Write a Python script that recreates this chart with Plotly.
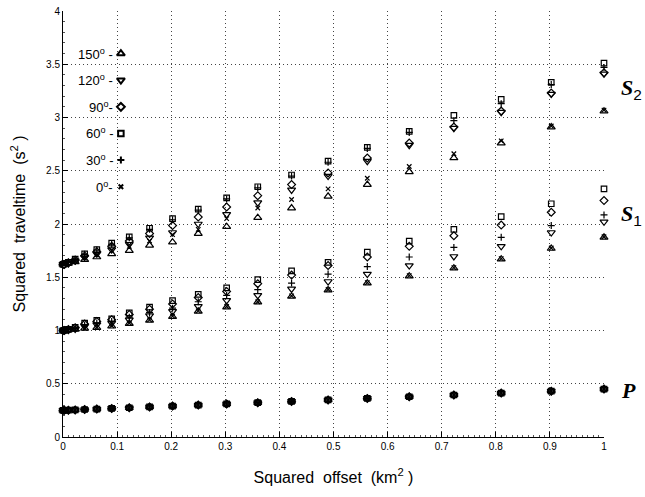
import plotly.graph_objects as go

# squared offsets (km^2)
x_sq = [0, 0.0025, 0.01, 0.0225, 0.04, 0.0625, 0.09, 0.1225, 0.16, 0.2025, 0.25,
        0.3025, 0.36, 0.4225, 0.49, 0.5625, 0.64, 0.7225, 0.81, 0.9025, 1.0]

# P wave (all angles nearly identical)
p_all = [0.25, 0.2505, 0.252, 0.2545, 0.258, 0.2625, 0.268, 0.2745, 0.282, 0.2905, 0.30,
         0.3105, 0.322, 0.3345, 0.348, 0.3625, 0.378, 0.3945, 0.412, 0.4305, 0.45]

# S1 wave
s1_0 = [1.0, 1.0, 1.005, 1.01, 1.02, 1.03, 1.045, 1.07, 1.10, 1.135, 1.185,
        1.225, 1.27, 1.325, 1.385, 1.45, 1.515, 1.59, 1.675, 1.775, 1.88]
s1_30 = [1.0, 1.0, 1.01, 1.02, 1.05, 1.07, 1.085, 1.125, 1.17, 1.21, 1.27,
         1.33, 1.383, 1.445, 1.53, 1.60, 1.69, 1.78, 1.875, 1.985, 2.085]
s1_60 = [1.0, 1.0, 1.01, 1.03, 1.07, 1.095, 1.11, 1.165, 1.22, 1.28, 1.34,
         1.40, 1.477, 1.56, 1.64, 1.735, 1.84, 1.95, 2.07, 2.19, 2.33]
s1_90 = [1.0, 1.0, 1.01, 1.025, 1.06, 1.085, 1.10, 1.15, 1.20, 1.25, 1.31,
         1.367, 1.44, 1.52, 1.61, 1.69, 1.79, 1.89, 1.99, 2.11, 2.22]
s1_120 = [1.0, 1.0, 1.005, 1.015, 1.04, 1.055, 1.07, 1.10, 1.14, 1.18, 1.227,
          1.283, 1.33, 1.39, 1.46, 1.53, 1.61, 1.695, 1.79, 1.92, 2.02]
s1_150 = [1.0, 1.0, 1.005, 1.01, 1.02, 1.027, 1.04, 1.065, 1.095, 1.13, 1.18,
          1.22, 1.267, 1.32, 1.38, 1.445, 1.51, 1.585, 1.67, 1.77, 1.875]

# S2 wave
s2_0 = [1.62, 1.62, 1.63, 1.65, 1.68, 1.71, 1.75, 1.79, 1.84, 1.90, 1.95,
        2.05, 2.15, 2.23, 2.33, 2.43, 2.54, 2.66, 2.78, 2.92, 3.07]
s2_30 = [1.62, 1.625, 1.64, 1.67, 1.715, 1.755, 1.81, 1.87, 1.95, 2.04, 2.13,
         2.235, 2.34, 2.45, 2.58, 2.71, 2.86, 2.97, 3.13, 3.31, 3.47]
s2_60 = [1.62, 1.625, 1.64, 1.67, 1.72, 1.76, 1.82, 1.88, 1.96, 2.05, 2.14,
         2.245, 2.35, 2.46, 2.59, 2.72, 2.87, 3.02, 3.17, 3.33, 3.51]
s2_90 = [1.62, 1.62, 1.635, 1.66, 1.70, 1.74, 1.79, 1.84, 1.91, 1.985, 2.065,
         2.16, 2.266, 2.37, 2.48, 2.62, 2.76, 2.91, 3.06, 3.23, 3.42]
s2_120 = [1.62, 1.62, 1.63, 1.655, 1.69, 1.72, 1.76, 1.81, 1.87, 1.92, 2.00,
          2.09, 2.20, 2.32, 2.45, 2.59, 2.74, 2.90, 3.05, 3.22, 3.41]
s2_150 = [1.62, 1.62, 1.63, 1.645, 1.665, 1.69, 1.72, 1.75, 1.80, 1.83, 1.91,
          1.975, 2.06, 2.15, 2.26, 2.37, 2.49, 2.62, 2.76, 2.91, 3.06]

angles = ["0", "30", "60", "90", "120", "150"]
s1_by_angle = [s1_0, s1_30, s1_60, s1_90, s1_120, s1_150]
s2_by_angle = [s2_0, s2_30, s2_60, s2_90, s2_120, s2_150]

x_ticks = [0, 0.1, 0.2, 0.3, 0.4, 0.5, 0.6, 0.7, 0.8, 0.9, 1]
x_ticklabels = ["0", "0.1", "0.2", "0.3", "0.4", "0.5", "0.6", "0.7", "0.8", "0.9", "1"]
y_ticks = [0, 0.5, 1, 1.5, 2, 2.5, 3, 3.5, 4]
y_ticklabels = ["0", "0.5", "1", "1.5", "2", "2.5", "3", "3.5", "4"]

# styling per angle
symbols = {"0": "x-thin-open", "30": "cross-thin-open", "60": "square-open",
           "90": "diamond-open", "120": "triangle-down-open", "150": "triangle-up-open"}
sizes = {"0": 4.5, "30": 5, "60": 5.5, "90": 6, "120": 7, "150": 7}
leg_labels = {"150": "150<sup>o</sup> -", "120": "120<sup>o</sup> -", "90": "90<sup>o</sup>-",
              "60": "60<sup>o</sup> -", "30": "30<sup>o</sup> -", "0": "0<sup>o</sup>-"}
# manual legend layout (data coordinates)
leg_order = ["150", "120", "90", "60", "30", "0"]
leg_y = [3.6, 3.35, 3.1, 2.85, 2.6, 2.35]
leg_mark_x = 0.107
leg_text_x = 0.097

fig = go.Figure()
for a, s1, s2 in zip(angles, s1_by_angle, s2_by_angle):
    xs = x_sq + x_sq + x_sq
    ys = p_all + s1 + s2
    fig.add_trace(go.Scatter(
        x=xs, y=ys, mode="markers", cliponaxis=False, showlegend=False,
        marker=dict(symbol=symbols[a], size=sizes[a], color="black",
                    line=dict(color="black", width=1.2)),
    ))

# manual legend
for a, ly in zip(leg_order, leg_y):
    fig.add_trace(go.Scatter(
        x=[leg_mark_x], y=[ly], mode="markers", showlegend=False, cliponaxis=False,
        marker=dict(symbol=symbols[a], size=sizes[a], color="black",
                    line=dict(color="black", width=2)),
    ))
    fig.add_annotation(x=leg_text_x, y=ly, xref="x", yref="y", text=leg_labels[a],
                       showarrow=False, xanchor="right", yanchor="middle",
                       font=dict(family="Liberation Sans, Arial", size=13, color="black"))

# wave labels (x in paper coords, right of the axes)
wave_font = dict(family="Liberation Serif, Times New Roman", size=22, color="black")
sub_span = "<span style='font-family:Liberation Sans;font-weight:normal'><sub>{}</sub></span>"
fig.add_annotation(x=1.028, y=3.27, xref="paper", yref="y", showarrow=False, xanchor="left",
                   text="<b><i>S</i></b>" + sub_span.format("2"), font=wave_font)
fig.add_annotation(x=1.028, y=2.08, xref="paper", yref="y", showarrow=False, xanchor="left",
                   text="<b><i>S</i></b>" + sub_span.format("1"), font=wave_font)
fig.add_annotation(x=1.028, y=0.44, xref="paper", yref="y", showarrow=False, xanchor="left",
                   text="<b><i>P</i></b>", font=wave_font)

grid_style = dict(showgrid=True, gridcolor="#444444", gridwidth=1, griddash="1px,3px")
fig.update_xaxes(
    range=[0, 1], tickvals=x_ticks, ticktext=x_ticklabels,
    showline=True, linecolor="black", linewidth=1, mirror=False,
    ticks="inside", ticklen=5, tickcolor="black", zeroline=False,
    minor=dict(ticks="inside", ticklen=2, dtick=0.01, tickcolor="#555", showgrid=False),
    tickfont=dict(family="Liberation Sans, Arial", size=10, color="black"),
    title=dict(text="Squared  offset  (km<sup>2</sup> )", standoff=20,
               font=dict(family="Liberation Sans, Arial", size=16, color="black")),
    **grid_style,
)
fig.update_yaxes(
    range=[0, 4], tickvals=y_ticks, ticktext=y_ticklabels,
    showline=True, linecolor="black", linewidth=1, mirror=False,
    ticks="inside", ticklen=5, tickcolor="black", zeroline=False,
    minor=dict(ticks="inside", ticklen=2, dtick=0.1, tickcolor="#555", showgrid=False),
    tickfont=dict(family="Liberation Sans, Arial", size=10, color="black"),
    title=dict(text="Squared  traveltime  (s<sup>2</sup> )", standoff=16,
               font=dict(family="Liberation Sans, Arial", size=16, color="black")),
    **grid_style,
)
fig.update_layout(
    width=645, height=497, margin=dict(l=63, r=41, t=11, b=60, autoexpand=False),
    plot_bgcolor="white", paper_bgcolor="white", showlegend=False,
)
fig.write_html("out.html", config={"displayModeBar": False},
               post_script="document.body.style.margin='0';document.body.style.overflow='hidden';")
